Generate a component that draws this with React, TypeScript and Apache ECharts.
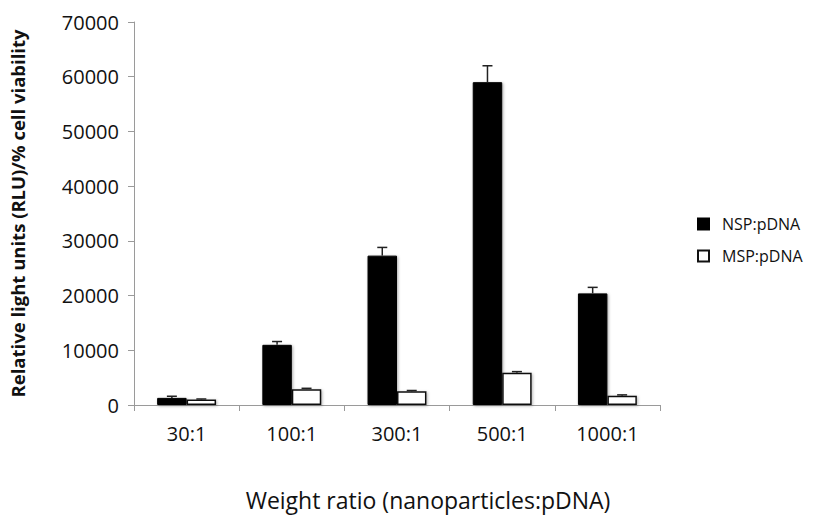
import React, { useEffect, useRef } from "react";
import * as echarts from "echarts";

const categories = ["30:1", "100:1", "300:1", "500:1", "1000:1"];
const nspValues = [1300, 11000, 27300, 59000, 20400];
const nspErrors = [300, 600, 1500, 3000, 1100];
const mspValues = [1000, 2900, 2500, 5900, 1700];
const mspErrors = [100, 150, 150, 200, 150];
const yTicks = { min: 0, max: 70000, interval: 10000 };

const FONT = "'Open Sans', sans-serif";

function errorSeries(values: number[], errs: number[], side: number) {
  return {
    type: "custom",
    name: side < 0 ? "nspErr" : "mspErr",
    z: 5,
    silent: true,
    encode: { x: 0, y: 1 },
    data: values.map((v, i) => [i, v, errs[i]]),
    renderItem: (params: any, api: any) => {
      const idx = api.value(0);
      const v = api.value(1);
      const e = api.value(2);
      const band = api.size([1, 0])[0];
      const base = api.coord([idx, v]);
      const top = api.coord([idx, v + e]);
      const x = base[0] + side * band * 0.14;
      const cap = 5;
      const style = { stroke: "#222", lineWidth: 1.5 };
      return {
        type: "group",
        children: [
          { type: "line", shape: { x1: x, y1: base[1], x2: x, y2: top[1] }, style },
          { type: "line", shape: { x1: x - cap, y1: top[1], x2: x + cap, y2: top[1] }, style },
        ],
      };
    },
  };
}

export default function App() {
  const ref = useRef<HTMLDivElement>(null);
  useEffect(() => {
    if (!ref.current) return;
    const chart = echarts.init(ref.current, undefined, { renderer: "svg" });
    chart.setOption({
      animation: false,
      backgroundColor: "#fff",
      grid: { left: 123, right: 163, top: 22, bottom: 110, containLabel: false },
      legend: {
        orient: "vertical",
        left: 692,
        top: 211,
        itemWidth: 11,
        itemHeight: 11,
        itemGap: 16,
        icon: "rect",
        data: ["NSP:pDNA", "MSP:pDNA"],
        textStyle: { fontFamily: FONT, fontSize: 16, color: "#111", padding: [0, 0, 0, 8] },
      },
      xAxis: {
        type: "category",
        data: categories,
        axisLine: { lineStyle: { color: "#9a9a9a", width: 1 } },
        axisTick: { show: true, alignWithLabel: false, length: 6, lineStyle: { color: "#9a9a9a" } },
        axisLabel: { fontFamily: FONT, fontSize: 20, color: "#111", margin: 18 },
      },
      yAxis: {
        type: "value",
        min: yTicks.min,
        max: yTicks.max,
        interval: yTicks.interval,
        name: "Relative light units (RLU)/% cell viability",
        nameLocation: "middle",
        nameRotate: 90,
        nameGap: 107,
        nameTextStyle: { fontFamily: FONT, fontSize: 18.5, fontWeight: "bold", color: "#111" },
        axisLine: { show: true, lineStyle: { color: "#9a9a9a", width: 1 } },
        axisTick: { show: true, length: 6, lineStyle: { color: "#9a9a9a" } },
        splitLine: { show: false },
        axisLabel: {
          fontFamily: FONT,
          fontSize: 20,
          color: "#111",
          margin: 15,
          formatter: (v: number) => String(v),
        },
      },
      graphic: [
        {
          type: "text",
          x: 428,
          y: 500,
          style: {
            text: "Weight ratio (nanoparticles:pDNA)",
            fontFamily: FONT,
            fontSize: 23,
            fill: "#111",
            align: "center",
            verticalAlign: "middle",
          },
        },
      ],
      series: [
        {
          name: "NSP:pDNA",
          type: "bar",
          data: nspValues,
          barGap: "0%",
          barCategoryGap: "44%",
          itemStyle: {
            color: "#000",
            borderColor: "#000",
            borderWidth: 1,
            shadowColor: "rgba(0,0,0,0.35)",
            shadowBlur: 3,
            shadowOffsetX: 1,
            shadowOffsetY: 1,
          },
        },
        {
          name: "MSP:pDNA",
          type: "bar",
          data: mspValues,
          barGap: "0%",
          barCategoryGap: "44%",
          itemStyle: {
            color: "#fff",
            borderColor: "#111",
            borderWidth: 1.5,
            shadowColor: "rgba(0,0,0,0.3)",
            shadowBlur: 3,
            shadowOffsetX: 1,
            shadowOffsetY: 1,
          },
        },
        errorSeries(nspValues, nspErrors, -1),
        errorSeries(mspValues, mspErrors, 1),
      ],
    });
    return () => chart.dispose();
  }, []);
  return <div ref={ref} style={{ width: 823, height: 515, position: "absolute", left: 0, top: 0 }} />;
}
